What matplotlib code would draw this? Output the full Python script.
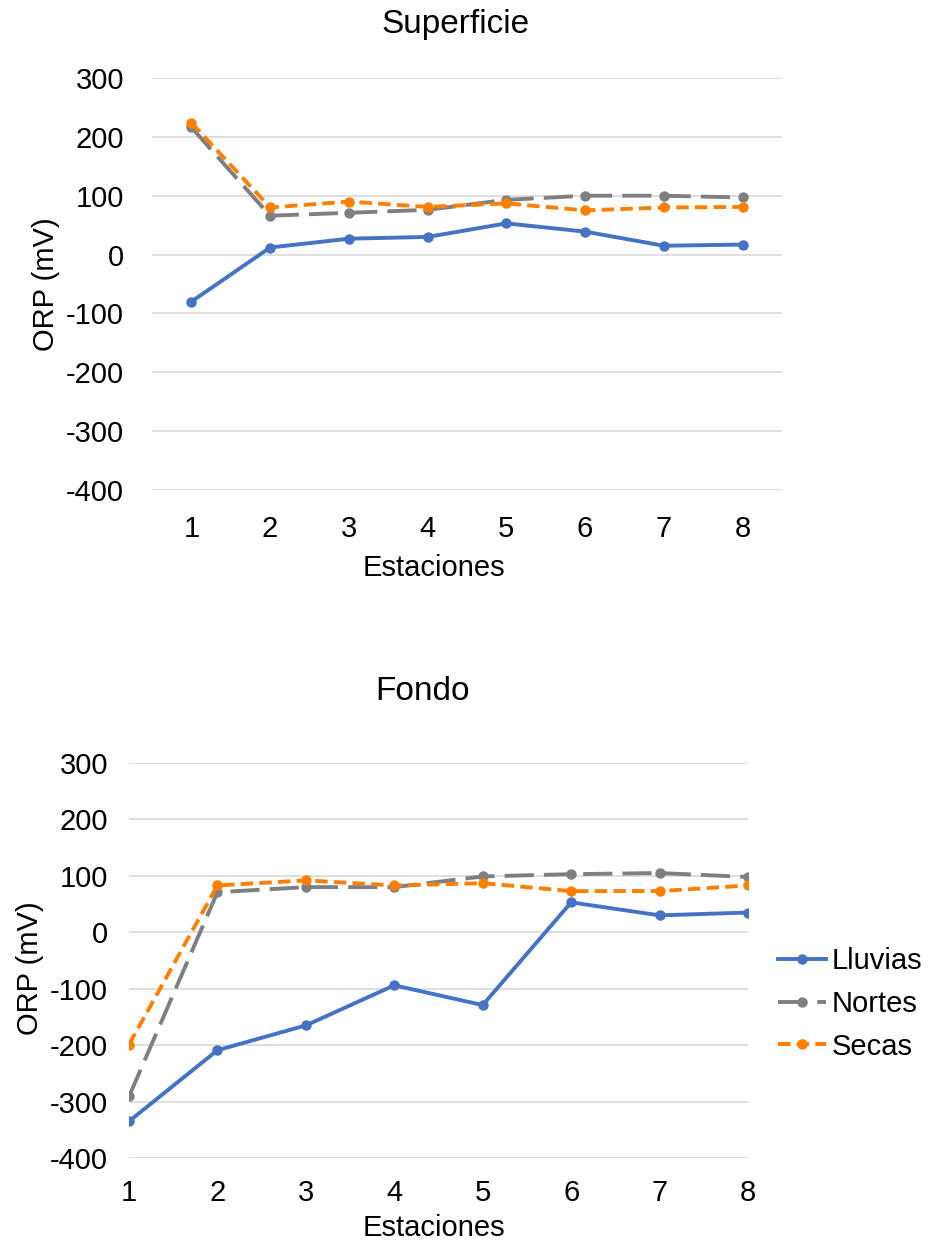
import matplotlib
matplotlib.use("Agg")
import matplotlib.pyplot as plt

plt.rcParams["font.family"] = ["Liberation Sans", "DejaVu Sans"]
plt.rcParams["axes.unicode_minus"] = False

estaciones = [1, 2, 3, 4, 5, 6, 7, 8]

# Superficie
sup_lluvias = [-80, 12, 27, 30, 53, 39, 15, 17]
sup_nortes = [216, 66, 71, 76, 93, 100, 100, 97]
sup_secas = [224, 80, 90, 81, 87, 75, 80, 81]

# Fondo
fon_lluvias = [-335, -209, -165, -94, -129, 53, 30, 35]
fon_nortes = [-291, 71, 80, 80, 99, 103, 105, 98]
fon_secas = [-199, 83, 92, 83, 87, 73, 73, 83]

yticks = [300, 200, 100, 0, -100, -200, -300, -400]

C_LLUVIAS = "#4472C4"
C_NORTES = "#7F7F7F"
C_SECAS = "#FF8000"
GRID = "#D9D9D9"
FS = 21      # ticks, axis titles, legend
FS_T = 24    # chart titles
LW = 2.8

fig = plt.figure(figsize=(9.29, 12.49), dpi=100)


def style_axes(ax, xlim, ypad, xpad):
    ax.set_xlim(*xlim)
    ax.set_ylim(-400, 300)
    ax.set_yticks(yticks)
    ax.set_xticks(estaciones)
    ax.grid(axis="y", color=GRID, linewidth=1.2)
    ax.set_axisbelow(True)
    for s in ax.spines.values():
        s.set_visible(False)
    ax.tick_params(axis="both", length=0, labelsize=FS, colors="#000000")
    ax.tick_params(axis="y", pad=ypad)
    ax.tick_params(axis="x", pad=xpad)


def draw_series(ax, ll, no, se):
    ax.plot(estaciones, ll, color=C_LLUVIAS, lw=LW, marker="o", ms=6.5,
            label="Lluvias")
    ax.plot(estaciones, no, color=C_NORTES, lw=LW, marker="o", ms=6.5,
            dashes=(7.5, 2.6), label="Nortes")
    ax.plot(estaciones, se, color=C_SECAS, lw=LW, marker="o", ms=6.5,
            dashes=(3.2, 1.6), label="Secas")


# -- top chart: Superficie --
ax1 = fig.add_axes([152 / 929, 1 - 490 / 1249, 630 / 929, 412 / 1249])
draw_series(ax1, sup_lluvias, sup_nortes, sup_secas)
style_axes(ax1, (0.5, 8.5), 20, 18)
ax1.set_ylabel("ORP (mV)", fontsize=FS)
ax1.yaxis.set_label_coords(-0.146, 0.5)
fig.text(456 / 929, 1 - 25 / 1249, "Superficie", fontsize=FS_T, ha="center", va="center")
fig.text(434 / 929, 1 - 568 / 1249, "Estaciones", fontsize=FS, ha="center", va="center")

# -- bottom chart: Fondo --
ax2 = fig.add_axes([129 / 929, 1 - 1158 / 1249, 619 / 929, 395 / 1249])
draw_series(ax2, fon_lluvias, fon_nortes, fon_secas)
style_axes(ax2, (1, 8), 15, 15)
ax2.set_ylabel("ORP (mV)", fontsize=FS)
ax2.yaxis.set_label_coords(-0.137, 0.48)
fig.text(423 / 929, 1 - 692 / 1249, "Fondo", fontsize=FS_T, ha="center", va="center")
fig.text(434 / 929, 1 - 1228 / 1249, "Estaciones", fontsize=FS, ha="center", va="center")

fig.legend(*ax2.get_legend_handles_labels(), loc="center left",
           bbox_to_anchor=(778 / 929, 1 - 1004 / 1249), frameon=False,
           fontsize=FS, handlelength=1.65, handletextpad=0.2, labelspacing=0.5,
           borderaxespad=0, borderpad=0)

fig.savefig("out.png", dpi=100)
